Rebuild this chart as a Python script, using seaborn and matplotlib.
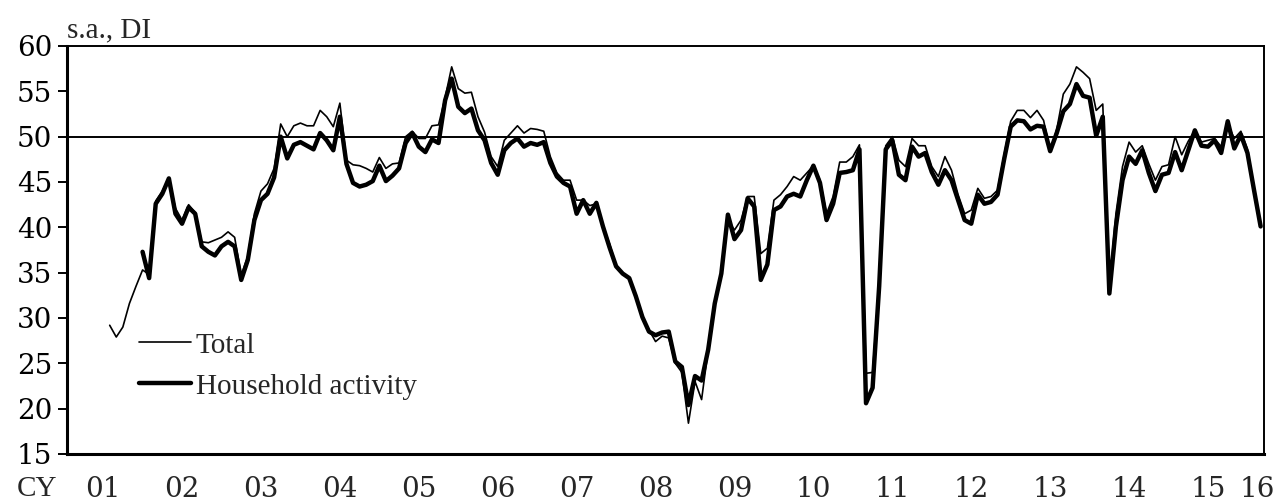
import numpy as np
import pandas as pd
import matplotlib
matplotlib.use('Agg')
import matplotlib.pyplot as plt
import seaborn as sns

# monthly category axis, Jan 2001 - Feb 2016
months = pd.period_range('2001-01', '2016-02', freq='M')

# Total DI, from Jul 2001
total = [29.2, 27.9, 29.0, 31.6, 33.5, 35.3,
         34.8, 42.9, 44.0, 45.4, 42.1, 40.8, 42.5, 41.6, 38.4, 38.3, 38.6, 38.9,
         39.5, 38.9, 34.7, 36.8, 41.5, 44.0, 44.8, 46.5, 51.4, 50.0, 51.2, 51.5,
         51.2, 51.2, 52.9, 52.2, 51.1, 53.7, 47.4, 46.9, 46.8, 46.5, 46.1, 47.7,
         46.5, 47.0, 47.1, 50.0, 50.6, 49.8, 49.8, 51.2, 51.3, 54.3, 57.7, 55.3,
         54.8, 54.9, 52.2, 50.5, 47.8, 46.7, 49.6, 50.4, 51.2, 50.4, 50.9, 50.8,
         50.6, 47.8, 46.0, 45.2, 45.2, 43.0, 43.0, 42.4, 42.6, 40.1, 38.2, 35.8,
         34.9, 34.4, 32.4, 30.1, 28.7, 27.4, 28.0, 27.8, 25.0, 24.0, 18.4, 23.0,
         21.0, 26.5, 31.6, 34.9, 40.8, 39.7, 40.8, 43.4, 43.4, 37.1, 37.7, 43.0,
         43.6, 44.5, 45.6, 45.2, 46.0, 46.8, 45.2, 41.5, 43.4, 47.2, 47.2, 47.8,
         49.1, 23.9, 24.0, 33.8, 49.0, 50.0, 47.4, 46.7, 49.8, 49.0, 49.0, 46.7,
         45.6, 47.8, 46.3, 43.6, 41.5, 41.9, 44.3, 43.2, 43.4, 44.1, 48.0, 51.7,
         52.9, 52.9, 52.1, 52.9, 51.8, 48.4, 50.8, 54.7, 55.8, 57.7, 57.1, 56.4,
         52.9, 53.6, 33.5, 41.5, 46.7, 49.4, 48.3, 49.0, 47.0, 45.2, 46.7, 46.9,
         50.0, 48.0, 49.5, 50.7, 49.4, 49.6, 49.8, 48.9, 51.4, 49.8, 50.6, 48.6,
         44.1, 40.1]

# Household activity DI, from Dec 2001
household = [37.3,
             34.4, 42.6, 43.7, 45.4, 41.5, 40.4, 42.2, 41.5, 37.9, 37.3, 36.9, 37.9,
             38.4, 37.9, 34.2, 36.4, 40.8, 43.0, 43.7, 45.5, 50.0, 47.6, 49.1, 49.4,
             49.0, 48.6, 50.4, 49.6, 48.5, 52.2, 47.0, 44.9, 44.5, 44.7, 45.1, 46.8,
             45.1, 45.7, 46.5, 49.3, 50.4, 48.9, 48.3, 49.7, 49.3, 54.0, 56.4, 53.3,
             52.6, 53.1, 50.7, 49.6, 47.1, 45.8, 48.5, 49.3, 49.8, 48.9, 49.3, 49.1,
             49.4, 47.1, 45.6, 44.9, 44.5, 41.5, 43.0, 41.5, 42.7, 40.1, 37.8, 35.7,
             34.9, 34.4, 32.4, 30.1, 28.5, 28.1, 28.4, 28.5, 25.2, 24.6, 20.4, 23.6,
             23.1, 26.5, 31.6, 34.9, 41.4, 38.7, 39.7, 43.2, 42.3, 34.2, 35.9, 41.9,
             42.3, 43.4, 43.7, 43.4, 45.2, 46.8, 44.9, 40.8, 42.6, 46.0, 46.1, 46.3,
             48.6, 20.6, 22.3, 33.5, 48.6, 49.6, 45.8, 45.2, 48.9, 47.8, 48.2, 46.1,
             44.7, 46.3, 45.2, 43.0, 40.8, 40.4, 43.6, 42.6, 42.8, 43.6, 47.5, 51.1,
             51.8, 51.7, 50.8, 51.2, 51.1, 48.4, 50.4, 52.8, 53.6, 55.8, 54.5, 54.3,
             50.1, 52.2, 32.7, 40.1, 45.2, 47.8, 47.0, 48.5, 46.0, 44.0, 45.8, 46.0,
             48.3, 46.3, 48.5, 50.7, 49.0, 48.9, 49.6, 48.2, 51.7, 48.7, 50.2, 48.2,
             44.1, 40.1]

year_labels = ['01', '02', '03', '04', '05', '06', '07', '08',
               '09', '10', '11', '12', '13', '14', '15', '16']

n = len(months)
df = pd.DataFrame({'month': months.astype(str), 'pos': np.arange(n)})
df['Total'] = [np.nan] * (n - len(total)) + total
df['Household activity'] = [np.nan] * (n - len(household)) + household

sns.set_style('white')
plt.rcParams['font.family'] = ['Liberation Serif', 'DejaVu Serif']

fig = plt.figure(figsize=(12.75, 5), dpi=100)
ax = fig.add_axes([0.0525, 0.092, 0.9388, 0.816])

sns.lineplot(data=df, x='pos', y='Household activity', color='black', lw=3.2,
             ax=ax, label='Household activity')
sns.lineplot(data=df, x='pos', y='Total', color='black', lw=1.2,
             ax=ax, label='Total')
ax.axhline(50, color='black', lw=1.4, zorder=1)

ax.set_xlim(-0.5, n - 0.5)
ax.set_ylim(15, 60)
ax.set_yticks(range(15, 61, 5))
ax.set_xlabel('')
ax.set_ylabel('')

# year boundaries as ticks, year labels centred in each year
year_start = np.arange(12, n, 12)
ax.set_xticks(year_start - 0.5)
ax.set_xticklabels([])
centres = [min(s + 5.0, (s + n - 1) / 2) for s in range(0, n, 12)]
ax.set_xticks(centres, minor=True)
ax.set_xticklabels(year_labels, minor=True)

ax.tick_params(axis='x', which='major', direction='in', length=5, width=1.4, colors='black')
ax.tick_params(axis='x', which='minor', length=0, pad=15.5, labelsize=20)
ax.tick_params(axis='y', direction='out', length=6.5, width=1.4, pad=4, labelsize=20,
               left=True, colors='black')
for lab in ax.get_xticklabels(minor=True) + ax.get_yticklabels():
    lab.set_family(['DejaVu Serif'])

for side in ['top', 'right']:
    ax.spines[side].set_linewidth(1.4)
for side in ['left', 'bottom']:
    ax.spines[side].set_linewidth(2.2)
for sp in ax.spines.values():
    sp.set_color('black')

ax.annotate('s.a., DI', xy=(0, 1), xycoords='axes fraction', xytext=(0, 2),
            textcoords='offset points', ha='left', va='bottom', fontsize=21)
ax.annotate('CY', xy=(17 / 1275, 0), xycoords=('figure fraction', 'axes fraction'),
            xytext=(0, -15.5), textcoords='offset points', ha='left', va='top', fontsize=21)

handles, labels = ax.get_legend_handles_labels()
order = [labels.index('Total'), labels.index('Household activity')]
ax.legend([handles[i] for i in order], [labels[i] for i in order],
          loc='center left', bbox_to_anchor=(0.06, 0.216), frameon=False,
          fontsize=21, handlelength=1.8, handletextpad=0.15, labelspacing=0.5,
          borderpad=0, borderaxespad=0)

fig.savefig('out.png', dpi=100)
plt.close(fig)
